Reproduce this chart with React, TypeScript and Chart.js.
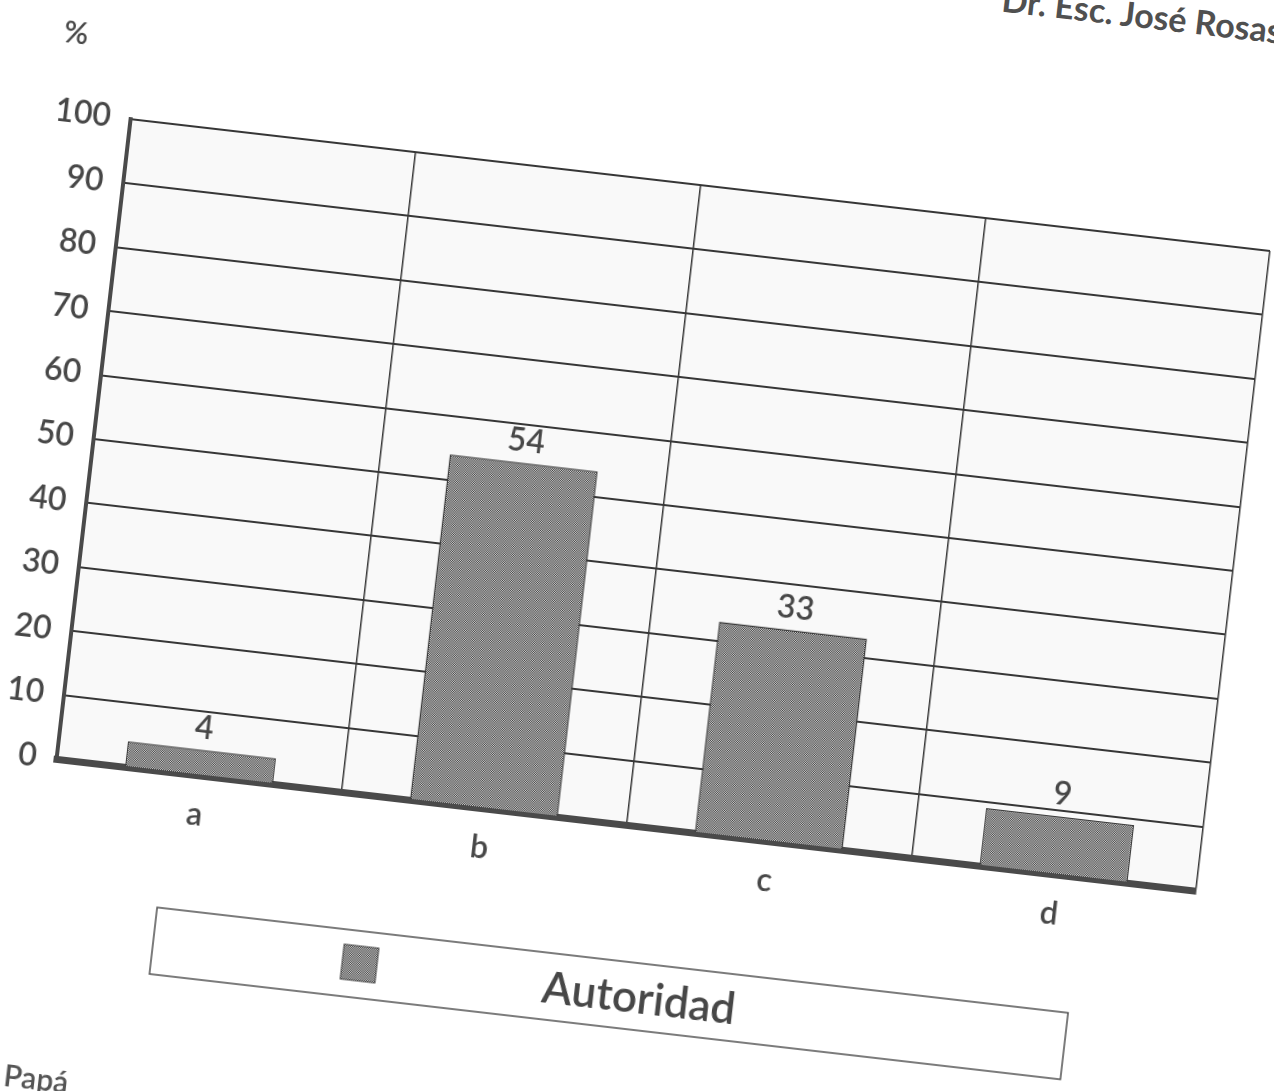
import React, { useEffect, useRef } from "react";
import { Chart, registerables } from "chart.js";

Chart.register(...registerables);

// ---- data ----
const categories: string[] = ["a", "b", "c", "d"];
const autoridadValues: number[] = [4, 54, 33, 9];
const seriesLabel = "Autoridad";
const yMin = 0;
const yMax = 100;
const yStep = 10;
const yAxisUnit = "%";
const headerText = "Dr. Esc. José Rosas";
const footerText = "Papá";

// ---- style ----
const FONT = "Lato, 'DejaVu Sans', sans-serif";
const WEIGHT = "600";
const INK = "#474747";
const GRID = "#363636";
const ANGLE = 6.6;

function makePattern(): CanvasPattern | string {
  const c = document.createElement("canvas");
  c.width = 2;
  c.height = 2;
  const g = c.getContext("2d");
  if (!g) return "#8c8c8c";
  g.fillStyle = "#d0d0d0";
  g.fillRect(0, 0, 2, 2);
  g.fillStyle = "#404040";
  g.fillRect(0, 0, 1, 1);
  g.fillRect(1, 1, 1, 1);
  return g.createPattern(c, "repeat") || "#8c8c8c";
}

export default function App() {
  const ref = useRef<HTMLCanvasElement | null>(null);

  useEffect(() => {
    const canvas = ref.current;
    if (!canvas) return;
    const pattern = makePattern();

    const bgPlugin = {
      id: "bgPlugin",
      beforeDraw(chart: any) {
        const { ctx, chartArea, width, height } = chart;
        ctx.save();
        ctx.fillStyle = "#ffffff";
        ctx.fillRect(0, 0, width, height);
        ctx.fillStyle = "#f9f9f9";
        ctx.fillRect(chartArea.left, chartArea.top, chartArea.right - chartArea.left, chartArea.bottom - chartArea.top);
        ctx.restore();
      },
    };

    const valuePlugin = {
      id: "valuePlugin",
      afterDatasetsDraw(chart: any) {
        const { ctx } = chart;
        const meta = chart.getDatasetMeta(0);
        const data = chart.data.datasets[0].data as number[];
        ctx.save();
        ctx.font = `${WEIGHT} 32px ${FONT}`;
        ctx.fillStyle = INK;
        ctx.textAlign = "center";
        ctx.textBaseline = "bottom";
        meta.data.forEach((el: any, i: number) => {
          ctx.fillText(String(data[i]), el.x, el.y - 6);
        });
        ctx.restore();
      },
    };

    const legendBoxPlugin = {
      id: "legendBoxPlugin",
      afterDraw(chart: any) {
        const { ctx } = chart;
        const ds = chart.data.datasets[0];
        const bx = 207, by = 963, bw = 917, bh = 67;
        ctx.save();
        ctx.fillStyle = "#ffffff";
        ctx.fillRect(bx, by, bw, bh);
        ctx.strokeStyle = "#505050";
        ctx.lineWidth = 1.5;
        ctx.strokeRect(bx, by, bw, bh);
        const sx = 397, sy = 978, ss = 35;
        ctx.fillStyle = ds.backgroundColor;
        ctx.fillRect(sx, sy, ss, ss);
        ctx.strokeStyle = "#444";
        ctx.lineWidth = 1;
        ctx.strokeRect(sx, sy, ss, ss);
        ctx.font = `${WEIGHT} 44px ${FONT}`;
        ctx.fillStyle = INK;
        ctx.textAlign = "center";
        ctx.textBaseline = "middle";
        ctx.fillText(ds.label, 696, by + bh / 2 + 2);
        ctx.restore();
      },
    };

    const chart = new Chart(canvas, {
      type: "bar",
      data: {
        labels: categories,
        datasets: [
          {
            label: seriesLabel,
            data: autoridadValues,
            backgroundColor: pattern as any,
            borderColor: "#3a3a3a",
            borderWidth: 1.5,
            barPercentage: 0.52,
            categoryPercentage: 1,
          },
        ],
      },
      options: {
        responsive: false,
        animation: false,
        devicePixelRatio: 1,
        layout: { padding: { top: 183, right: 37, bottom: 273, left: 0 } },
        plugins: {
          legend: { display: false },
          tooltip: { enabled: false },
          title: { display: false },
        },
        scales: {
          x: {
            type: "category",
            grid: { offset: true, color: GRID, lineWidth: 1.5, drawTicks: false },
            border: { display: true, width: 7, color: "#4a4a4a" },
            ticks: { font: { family: FONT, size: 32, weight: WEIGHT as any }, color: INK, padding: 20 },
            afterFit: (s: any) => {
              s.height = 80;
            },
          },
          y: {
            min: yMin,
            max: yMax,
            grid: { color: GRID, lineWidth: 2, drawTicks: false },
            border: { display: true, width: 4, color: "#4a4a4a" },
            ticks: {
              stepSize: yStep,
              font: { family: FONT, size: 32, weight: WEIGHT as any },
              color: INK,
              padding: 20,
            },
            afterFit: (s: any) => {
              s.width = 90;
            },
          },
        },
      },
      plugins: [bgPlugin, valuePlugin, legendBoxPlugin],
    });

    return () => chart.destroy();
  }, []);

  return (
    <div
      style={{
        position: "fixed",
        left: 0,
        top: 0,
        width: 1274,
        height: 1091,
        overflow: "hidden",
        background: "#ffffff",
      }}
    >
      <div
        style={{
          position: "absolute",
          left: 0,
          top: 0,
          width: 1274,
          height: 1180,
          transformOrigin: "664px 503px",
          transform: `rotate(${ANGLE}deg)`,
        }}
      >
        <canvas ref={ref} width={1274} height={1180} style={{ width: 1274, height: 1180, display: "block" }} />
        <div
          style={{
            position: "absolute",
            left: 14,
            top: 84,
            font: `${WEIGHT} 30px ${FONT}`,
            color: INK,
          }}
        >
          {yAxisUnit}
        </div>
        <div
          style={{
            position: "absolute",
            left: 942,
            top: -58,
            font: `bold 34px ${FONT}`,
            color: "#505050",
            whiteSpace: "nowrap",
          }}
        >
          {headerText}
        </div>
        <div
          style={{
            position: "absolute",
            left: 74,
            top: 1128,
            font: `${WEIGHT} 30px ${FONT}`,
            color: "#555",
            whiteSpace: "nowrap",
          }}
        >
          {footerText}
        </div>
      </div>
    </div>
  );
}
